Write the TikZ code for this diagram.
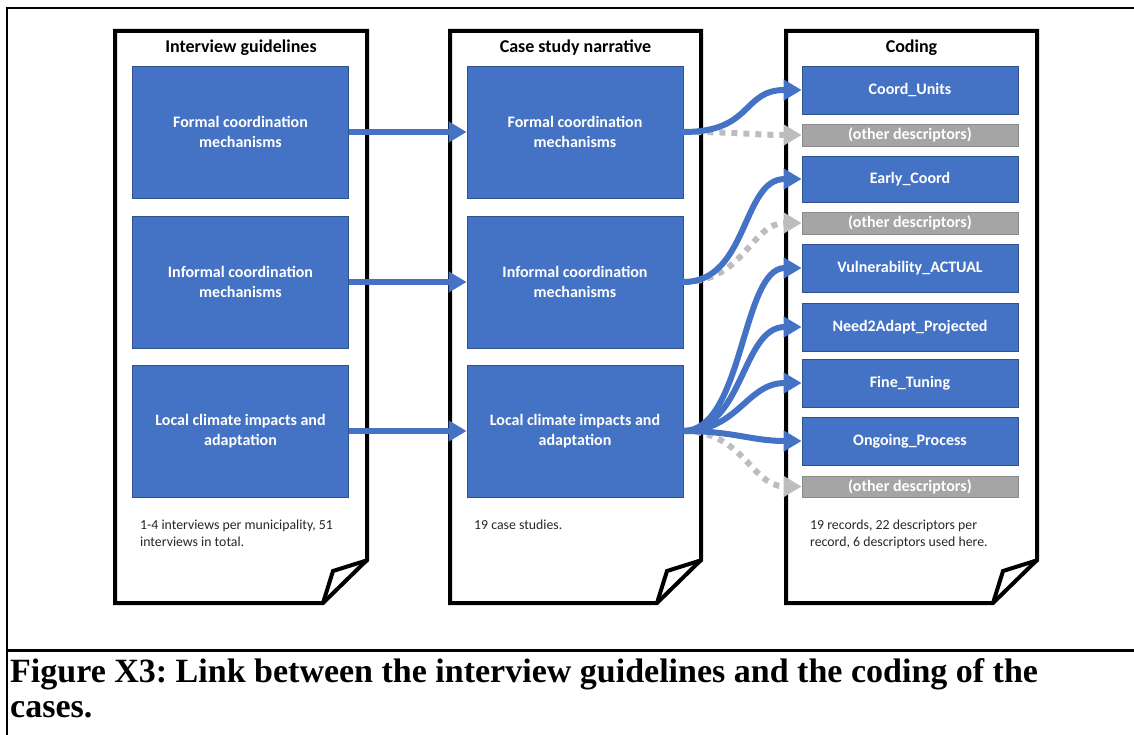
\documentclass[tikz,border=0pt]{standalone}
\usepackage{fontspec}
\setmainfont{Carlito}
\newfontfamily\capfont{Liberation Serif}
\usetikzlibrary{arrows.meta}
\definecolor{bl}{HTML}{4472C4}
\definecolor{bld}{HTML}{2F528F}
\definecolor{gb}{HTML}{A5A5A5}
\definecolor{gbd}{HTML}{8A8A8A}
\definecolor{gl}{HTML}{BDBDBD}
\newcommand{\mydoc}[2]{%
  \draw[docline] (#1,31) -- (#2,31) -- (#2,560) -- ({#2-44},603) -- (#1,603) -- cycle;
  \draw[docline] ({#2-44},603) -- ({#2-34},571) -- ({#2+1},560);
}
\frenchspacing
\begin{document}
\begin{tikzpicture}[x=1pt,y=-1pt,
  docline/.style={line width=4pt, line join=miter},
  ttl/.style={font=\fontsize{18}{21}\selectfont\bfseries, inner sep=0},
  bbox/.style={fill=bl, draw=bld, line width=0.8pt, text=white, font=\fontsize{16}{19.5}\selectfont\bfseries, align=center, minimum width=216pt, inner sep=0},
  bigbox/.style={bbox, minimum height=132pt},
  smallbox/.style={bbox, minimum height=48pt},
  gbox/.style={bbox, fill=gb, draw=gbd, minimum height=22pt},
  foot/.style={font=\fontsize{13.8}{16.5}\selectfont, align=left, anchor=north west, inner sep=0, text=black!85},
  barrow/.style={draw=bl, line width=6pt, -{Triangle[length=18pt,width=20pt]}},
  garrow/.style={draw=gl, line width=6pt, dash pattern=on 6pt off 6pt, -{Triangle[length=18pt,width=20pt]}},
]
\useasboundingbox (0,0) rectangle (1134,735);
% frame
\draw[line width=2pt] (1134,8) -- (7,8) -- (7,735);
\draw[line width=3pt] (7,650) -- (1134,650);
% documents
\mydoc{115}{367}
\mydoc{450}{701}
\mydoc{786}{1037}
% titles
\node[ttl] (t1) at (241,48) {Interview guidelines};
\node[ttl] (t2) at (575.5,48) {Case study narrative};
\node[ttl] (t3) at (911.5,48) {Coding};
% column 1
\node[bigbox] (a1) at (240.5,132) {Formal coordination\\mechanisms};
\node[bigbox] (a2) at (240.5,282) {Informal coordination\\mechanisms};
\node[bigbox] (a3) at (240.5,431) {Local climate impacts and\\adaptation};
% column 2
\node[bigbox] (b1) at (575,132) {Formal coordination\\mechanisms};
\node[bigbox] (b2) at (575,282) {Informal coordination\\mechanisms};
\node[bigbox] (b3) at (575,431) {Local climate impacts and\\adaptation};
% column 3
\node[smallbox] (cu) at (910,90) {Coord\_Units};
\node[gbox] (o1) at (910,135) {(other descriptors)};
\node[smallbox, minimum height=46pt] (ec) at (910,179) {Early\_Coord};
\node[gbox] (o2) at (910,223) {(other descriptors)};
\node[smallbox] (va) at (910,268) {Vulnerability\_ACTUAL};
\node[smallbox] (na) at (910,327) {Need2Adapt\_Projected};
\node[smallbox] (ft) at (910,383) {Fine\_Tuning};
\node[smallbox] (op) at (910,441) {Ongoing\_Process};
\node[gbox, minimum height=21pt] (o3) at (910,486.5) {(other descriptors)};
% footnotes
\node[foot] (f1) at (140,520) {1-4 interviews per municipality, 51\\interviews in total.};
\node[foot] (f2) at (474,520) {19 case studies.};
\node[foot] (f3) at (810,520) {19 records, 22 descriptors per\\record, 6 descriptors used here.};
% straight arrows
\draw[barrow] (a1.east) -- (b1.west);
\draw[barrow] (a2.east) -- (b2.west);
\draw[barrow] (a3.east) -- (b3.west);
% grey dotted arrows
\draw[garrow] (b1.east) .. controls +(60,0) and +(-50,0) .. (o1.west);
\draw[garrow] (b2.east) .. controls +(60,0) and +(-50,0) .. (o2.west);
\draw[garrow] (b3.east) .. controls +(60,0) and +(-50,0) .. (o3.west);
% blue curved arrows
\draw[barrow] (b1.east) .. controls +(70,0) and +(-60,0) .. (cu.west);
\draw[barrow] (b2.east) .. controls +(65,0) and +(-60,0) .. (ec.west);
\draw[barrow] (b3.east) .. controls +(60,0) and +(-60,0) .. (va.west);
\draw[barrow] (b3.east) .. controls +(60,0) and +(-60,0) .. (na.west);
\draw[barrow] (b3.east) .. controls +(55,0) and +(-55,0) .. (ft.west);
\draw[barrow] (b3.east) .. controls +(50,0) and +(-50,0) .. (op.west);
% caption
\node[anchor=north west, font=\capfont\bfseries\fontsize{34}{35}\selectfont, align=left, inner sep=0] (cap) at (10,658) {Figure X3: Link between the interview guidelines and the coding of the\\cases.};
\end{tikzpicture}
\end{document}
